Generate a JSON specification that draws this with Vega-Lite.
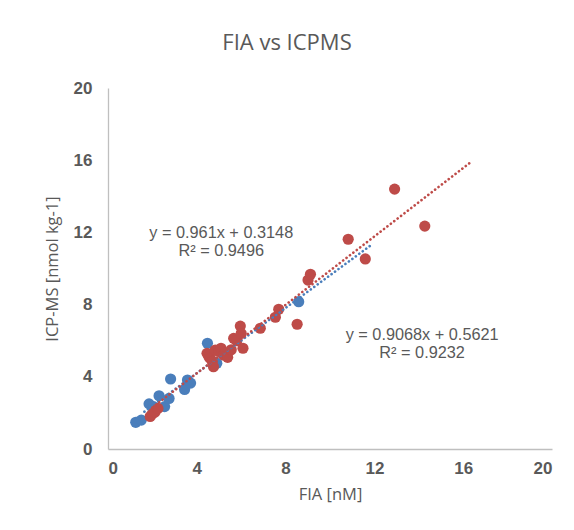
{
  "$schema": "https://vega.github.io/schema/vega-lite/v6.json",
  "width": 444,
  "height": 361,
  "autosize": {"type": "none"},
  "padding": {"left": 108, "top": 88, "right": 22, "bottom": 81},
  "background": "white",
  "title": {
    "text": "FIA vs ICPMS",
    "font": "Open Sans",
    "fontSize": 22,
    "fontWeight": "normal",
    "color": "#595959",
    "anchor": "middle",
    "offset": 24,
    "dx": -43
  },
  "datasets": {
    "points": [
      {"series": "A", "fia": 1.25, "icpms": 1.48},
      {"series": "A", "fia": 1.5, "icpms": 1.6},
      {"series": "A", "fia": 1.85, "icpms": 2.5},
      {"series": "A", "fia": 2.05, "icpms": 2.35},
      {"series": "A", "fia": 2.3, "icpms": 2.95},
      {"series": "A", "fia": 2.55, "icpms": 2.35},
      {"series": "A", "fia": 2.75, "icpms": 2.8},
      {"series": "A", "fia": 2.82, "icpms": 3.88},
      {"series": "A", "fia": 3.45, "icpms": 3.3},
      {"series": "A", "fia": 3.58, "icpms": 3.82},
      {"series": "A", "fia": 3.72, "icpms": 3.65},
      {"series": "A", "fia": 4.48, "icpms": 5.86},
      {"series": "A", "fia": 4.9, "icpms": 4.75},
      {"series": "A", "fia": 8.59, "icpms": 8.16},
      {"series": "B", "fia": 1.9, "icpms": 1.8},
      {"series": "B", "fia": 2.0, "icpms": 1.95},
      {"series": "B", "fia": 2.12, "icpms": 2.05},
      {"series": "B", "fia": 2.25, "icpms": 2.25},
      {"series": "B", "fia": 4.46, "icpms": 5.3},
      {"series": "B", "fia": 4.55, "icpms": 5.1},
      {"series": "B", "fia": 4.61, "icpms": 5.02},
      {"series": "B", "fia": 4.7, "icpms": 4.85},
      {"series": "B", "fia": 4.75, "icpms": 4.56},
      {"series": "B", "fia": 4.83, "icpms": 5.48},
      {"series": "B", "fia": 5.0, "icpms": 5.4},
      {"series": "B", "fia": 5.09, "icpms": 5.58},
      {"series": "B", "fia": 5.2, "icpms": 5.2},
      {"series": "B", "fia": 5.28, "icpms": 5.3},
      {"series": "B", "fia": 5.39, "icpms": 5.08},
      {"series": "B", "fia": 5.55, "icpms": 5.5},
      {"series": "B", "fia": 5.66, "icpms": 6.13},
      {"series": "B", "fia": 5.8, "icpms": 6.0},
      {"series": "B", "fia": 5.96, "icpms": 6.81},
      {"series": "B", "fia": 6.0, "icpms": 6.4},
      {"series": "B", "fia": 6.08, "icpms": 5.58},
      {"series": "B", "fia": 6.86, "icpms": 6.69},
      {"series": "B", "fia": 7.54, "icpms": 7.3},
      {"series": "B", "fia": 7.69, "icpms": 7.74},
      {"series": "B", "fia": 8.52, "icpms": 6.91},
      {"series": "B", "fia": 9.01, "icpms": 9.36},
      {"series": "B", "fia": 9.12, "icpms": 9.68},
      {"series": "B", "fia": 10.82, "icpms": 11.62},
      {"series": "B", "fia": 11.59, "icpms": 10.53},
      {"series": "B", "fia": 12.91, "icpms": 14.4},
      {"series": "B", "fia": 14.27, "icpms": 12.35}
    ],
    "trends": [
      {"series": "A", "fia": 1.64, "icpms": 2.07},
      {"series": "A", "fia": 11.8, "icpms": 11.25},
      {"series": "B", "fia": 2.0, "icpms": 2.3},
      {"series": "B", "fia": 16.37, "icpms": 15.92}
    ],
    "labels": [
      {"fia": 5.1, "icpms": 11.97, "label": "y = 0.961x + 0.3148"},
      {"fia": 5.1, "icpms": 10.97, "label": "R² = 0.9496"},
      {"fia": 14.15, "icpms": 6.31, "label": "y = 0.9068x + 0.5621"},
      {"fia": 14.15, "icpms": 5.34, "label": "R² = 0.9232"}
    ]
  },
  "encoding": {
    "x": {
      "field": "fia",
      "type": "quantitative",
      "scale": {"domain": [0, 20], "nice": false, "zero": true},
      "axis": {
        "title": "FIA [nM]",
        "values": [0, 4, 8, 12, 16, 20],
        "labelPadding": 11,
        "titlePadding": 10
      }
    },
    "y": {
      "field": "icpms",
      "type": "quantitative",
      "scale": {"domain": [0, 20], "nice": false, "zero": true},
      "axis": {
        "title": "ICP-MS [nmol kg-1]",
        "values": [0, 4, 8, 12, 16, 20],
        "labelPadding": 16,
        "titlePadding": 13
      }
    }
  },
  "layer": [
    {
      "data": {"name": "points"},
      "mark": {"type": "circle", "size": 125, "opacity": 1},
      "encoding": {
        "color": {
          "field": "series",
          "type": "nominal",
          "scale": {"domain": ["A", "B"], "range": ["#4A7EBB", "#BE4B48"]},
          "legend": null
        }
      }
    },
    {
      "data": {"name": "trends"},
      "mark": {"type": "line", "strokeDash": [0.1, 4.2], "strokeWidth": 2.6, "strokeCap": "round"},
      "encoding": {
        "detail": {"field": "series"},
        "color": {
          "field": "series",
          "type": "nominal",
          "scale": {"domain": ["A", "B"], "range": ["#4A7EBB", "#BE4B48"]},
          "legend": null
        }
      }
    },
    {
      "data": {"name": "labels"},
      "mark": {"type": "text", "font": "Liberation Sans", "fontSize": 16.3, "color": "#595959", "align": "center", "baseline": "middle"},
      "encoding": {
        "text": {"field": "label"}
      }
    }
  ],
  "config": {
    "view": {"stroke": null},
    "axis": {
      "grid": false,
      "ticks": false,
      "domainColor": "#BFBFBF",
      "domainWidth": 1.3,
      "labelFont": "Liberation Sans",
      "labelFontWeight": "bold",
      "labelFontSize": 17,
      "labelColor": "#595959",
      "titleFont": "Open Sans",
      "titleFontSize": 16.5,
      "titleFontWeight": "normal",
      "titleColor": "#595959"
    }
  }
}
